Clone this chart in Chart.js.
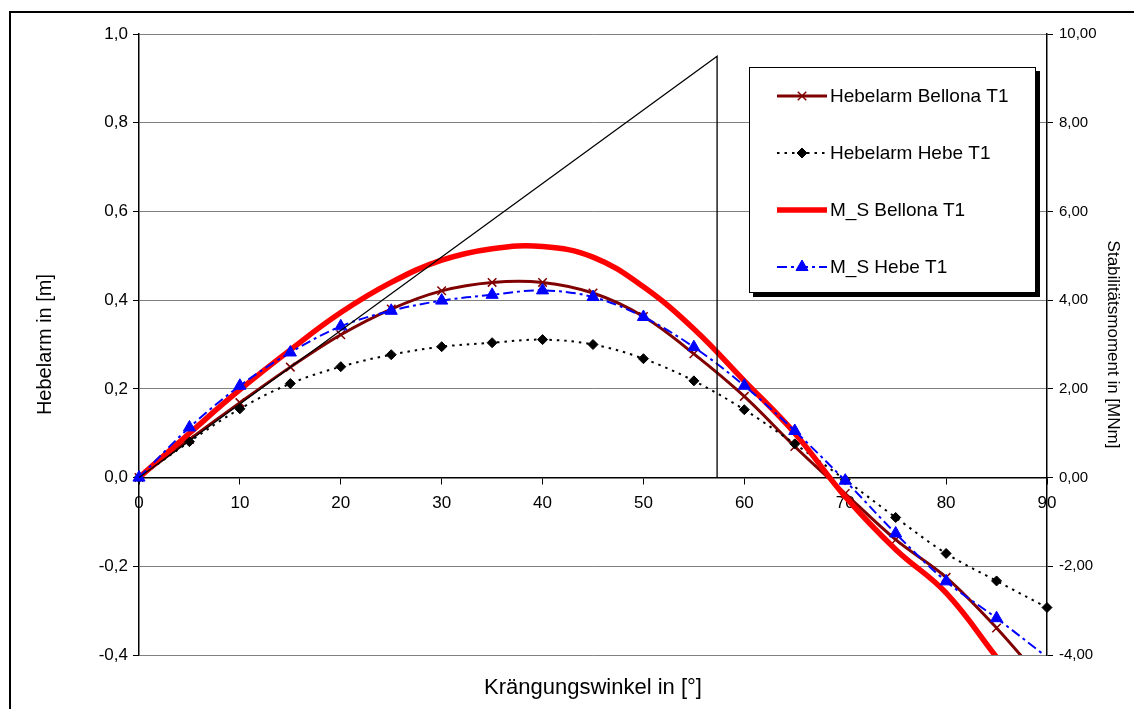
<!DOCTYPE html>
<html lang="de">
<head>
<meta charset="utf-8">
<title>Hebelarm und Stabilitätsmoment</title>
<script src="https://cdn.jsdelivr.net/npm/chart.js"></script>
<style>
  html, body { margin: 0; padding: 0; background: #fff; overflow: hidden; }
  #wrap { position: relative; width: 1134px; height: 709px; overflow: hidden; }
  #frame { position: absolute; left: 9px; top: 11px; width: 1200px; height: 800px;
           border-left: 2px solid #000; border-top: 2px solid #000; box-sizing: border-box; }
  canvas { position: absolute; left: 0; top: 0; }
</style>
</head>
<body>
<div id="wrap">
  <div id="frame"></div>
  <canvas id="stabChart" width="1134" height="709"></canvas>
</div>
<script>
/* Krängungswinkel [°] */
const angles = [0, 5, 10, 15, 20, 25, 30, 35, 40, 45, 50, 55, 60, 65, 70, 75, 80, 85, 90];

/* Hebelarme [m] */
const hebelarmBellona = [0, 0.086, 0.169, 0.249, 0.322, 0.380, 0.421, 0.440, 0.440, 0.416,
                         0.363, 0.279, 0.183, 0.070, -0.036, -0.140, -0.225, -0.339, -0.470];
const hebelarmHebe = [0, 0.081, 0.155, 0.212, 0.250, 0.277, 0.295, 0.304, 0.311, 0.300,
                      0.268, 0.218, 0.153, 0.076, -0.005, -0.090, -0.171, -0.233, -0.293];

/* Stabilitätsmomente [MNm] */
const momentBellona = [0, 1.00, 1.98, 2.88, 3.72, 4.40, 4.90, 5.16, 5.21, 4.97,
                       4.30, 3.35, 2.18, 1.00, -0.43, -1.62, -2.60, -4.05, -5.50];
const momentHebe = [0, 1.13, 2.07, 2.82, 3.41, 3.76, 3.99, 4.12, 4.22, 4.07,
                    3.62, 2.94, 2.07, 1.05, -0.07, -1.26, -2.34, -3.17, -4.05];

/* Anfangstangente (GM bei 1 rad) */
const tangentX = [0, 57.3, 57.3];
const tangentY = [0, 0.95, 0];

/* Achsen */
const angleTicks = { min: 0, max: 90, step: 10 };
const leverTicks = { min: -0.4, max: 1.0, step: 0.2 };
const momentTicks = { min: -4, max: 10, step: 2 };

const FONT = "'Liberation Sans', Arial, Helvetica, sans-serif";
Chart.defaults.font.family = FONT;
Chart.defaults.color = '#000';

const toPoints = (xs, ys) => xs.map((x, i) => ({ x, y: ys[i] }));
const comma = (v, d) => (Math.abs(v) < 1e-9 ? 0 : v).toFixed(d).replace('.', ',');

// Marker unterhalb der Achse ausblenden (Excel zeichnet sie dort nicht)
const markerRadius = (min, r) => ctx => (ctx.raw && ctx.raw.y < min - 1e-9 ? 0 : r);
const edgeClip = { left: 12, right: 12, top: 12, bottom: 0 };

const datasets = [
    {
        label: 'Hebelarm Bellona T1',
        data: toPoints(angles, hebelarmBellona),
        yAxisID: 'y',
        borderColor: '#800000',
        borderWidth: 3,
        tension: 0.35,
        pointStyle: 'crossRot',
        marker: 6,
        pointRadius: markerRadius(leverTicks.min, 6),
        pointBorderColor: '#800000',
        pointBackgroundColor: '#800000',
        pointBorderWidth: 1.5,
        order: 4,
        clip: edgeClip
    },
    {
        label: 'Hebelarm Hebe T1',
        data: toPoints(angles, hebelarmHebe),
        yAxisID: 'y',
        borderColor: '#000000',
        borderWidth: 2,
        borderDash: [2.5, 5],
        tension: 0.35,
        pointStyle: 'rectRot',
        marker: 5,
        pointRadius: markerRadius(leverTicks.min, 5),
        pointBorderColor: '#000000',
        pointBackgroundColor: '#000000',
        pointBorderWidth: 1,
        order: 3,
        clip: edgeClip
    },
    {
        label: 'M_S Bellona T1',
        data: toPoints(angles, momentBellona),
        yAxisID: 'y2',
        borderColor: '#ff0000',
        borderWidth: 5.5,
        tension: 0.4,
        marker: 0,
        pointRadius: 0,
        order: 2,
        clip: edgeClip
    },
    {
        label: 'M_S Hebe T1',
        data: toPoints(angles, momentHebe),
        yAxisID: 'y2',
        borderColor: '#0000ff',
        borderWidth: 2,
        borderDash: [10, 4, 3, 4],
        tension: 0.35,
        pointStyle: 'triangle',
        marker: 7,
        pointRadius: markerRadius(momentTicks.min, 7),
        pointBorderColor: '#0000ff',
        pointBackgroundColor: '#0000ff',
        pointBorderWidth: 1,
        order: 1,
        clip: edgeClip
    },
    {
        label: 'Tangente',
        data: toPoints(tangentX, tangentY),
        yAxisID: 'y',
        borderColor: '#000000',
        borderWidth: 1.3,
        tension: 0,
        pointRadius: 0,
        inLegend: false,
        order: 0
    }
];

/* Legende als Kasten mit Schatten im Diagramm */
const boxLegend = {
    id: 'boxLegend',
    afterDatasetsDraw(chart, args, opts) {
        const { ctx } = chart;
        const { x, y, w, h, shadow, firstRow, rowGap, lineFrom, lineTo, textX, size } = opts;
        ctx.save();
        ctx.fillStyle = '#000';
        ctx.fillRect(x + shadow, y + shadow, w, h);
        ctx.fillStyle = '#fff';
        ctx.fillRect(x, y, w, h);
        ctx.strokeStyle = '#000';
        ctx.lineWidth = 1;
        ctx.strokeRect(x + 0.5, y + 0.5, w - 1, h - 1);

        chart.data.datasets.filter(ds => ds.inLegend !== false).forEach((ds, i) => {
            const cy = y + firstRow + i * rowGap;
            ctx.strokeStyle = ds.borderColor;
            ctx.lineWidth = ds.borderWidth;
            ctx.setLineDash(ds.borderDash || []);
            ctx.beginPath();
            ctx.moveTo(x + lineFrom, cy);
            ctx.lineTo(x + lineTo, cy);
            ctx.stroke();
            ctx.setLineDash([]);
            if (ds.marker) {
                ctx.fillStyle = ds.pointBackgroundColor;
                ctx.strokeStyle = ds.pointBorderColor;
                ctx.lineWidth = ds.pointBorderWidth;
                Chart.helpers.drawPoint(ctx, {
                    pointStyle: ds.pointStyle, radius: ds.marker, rotation: 0, borderWidth: ds.pointBorderWidth
                }, x + (lineFrom + lineTo) / 2, cy);
            }
            ctx.fillStyle = '#000';
            ctx.font = `${size}px ${FONT}`;
            ctx.textAlign = 'left';
            ctx.textBaseline = 'middle';
            ctx.fillText(ds.label, x + textX, cy + 1);
        });
        ctx.restore();
    }
};

/* x-Achsentitel, mittig unter der Zeichenfläche */
const angleCaption = {
    id: 'angleCaption',
    afterDraw(chart, args, opts) {
        const { ctx, chartArea } = chart;
        ctx.save();
        ctx.font = `${opts.size}px ${FONT}`;
        ctx.fillStyle = '#000';
        ctx.textAlign = 'center';
        ctx.textBaseline = 'middle';
        ctx.fillText(opts.text, (chartArea.left + chartArea.right) / 2, opts.y);
        ctx.restore();
    }
};

new Chart(document.getElementById('stabChart'), {
    type: 'line',
    data: { datasets },
    plugins: [boxLegend, angleCaption],
    options: {
        responsive: false,
        animation: false,
        layout: { padding: { top: 34, left: 0, right: 0, bottom: 54 } },
        scales: {
            x: {
                type: 'linear',
                position: { y: 0 },
                min: angleTicks.min,
                max: angleTicks.max,
                ticks: { stepSize: angleTicks.step, font: { size: 17 }, padding: 10, maxRotation: 0,
                         callback: v => String(v) },
                grid: { drawOnChartArea: false, tickLength: 6, tickColor: '#000', tickWidth: 1 },
                border: { color: '#000', width: 1.5 }
            },
            y: {
                position: 'left',
                min: leverTicks.min,
                max: leverTicks.max,
                ticks: { stepSize: leverTicks.step, font: { size: 17 }, padding: 5,
                         callback: v => comma(v, 1) },
                grid: { color: '#808080', lineWidth: 1, tickColor: '#000', tickLength: 6 },
                border: { color: '#000', width: 1.5 },
                title: { display: true, text: 'Hebelarm in [m]', font: { size: 20 }, padding: { top: 33 } },
                afterFit: s => { s.width = 139; }
            },
            y2: {
                position: 'right',
                min: momentTicks.min,
                max: momentTicks.max,
                ticks: { stepSize: momentTicks.step, font: { size: 15 }, padding: 6,
                         callback: v => comma(v, 2) },
                grid: { drawOnChartArea: false, tickColor: '#000', tickLength: 6 },
                border: { color: '#000', width: 1.5 },
                title: { display: true, text: 'Stabilitätsmoment in [MNm]', font: { size: 17 }, padding: { top: 11 } },
                afterFit: s => { s.width = 87; }
            }
        },
        plugins: {
            legend: { display: false },
            tooltip: { enabled: false },
            title: { display: false },
            angleCaption: { text: 'Krängungswinkel in [°]', size: 22, y: 688 },
            boxLegend: {
                x: 749, y: 67, w: 287, h: 226, shadow: 4, size: 19,
                firstRow: 29, rowGap: 57, lineFrom: 28, lineTo: 78, textX: 81
            }
        }
    }
});
</script>
</body>
</html>
